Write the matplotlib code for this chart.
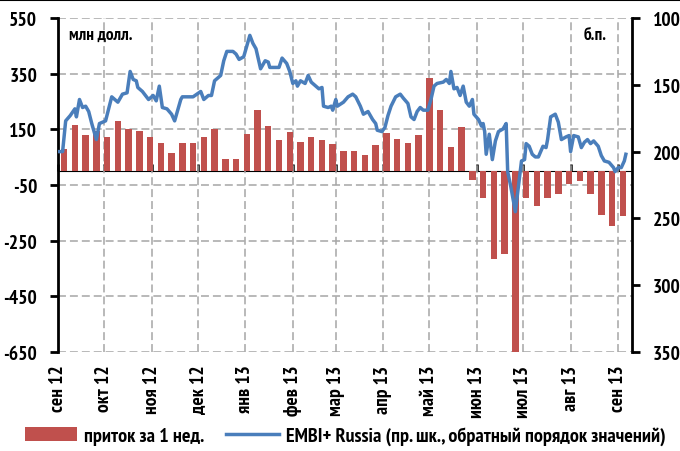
import matplotlib
matplotlib.use('Agg')
import matplotlib.pyplot as plt
import numpy as np
import pandas as pd
from matplotlib.patches import Patch
from matplotlib.lines import Line2D
from matplotlib import font_manager as fm

_avail = set(f.name for f in fm.fontManager.ttflist)
_pref = ['PT Sans Narrow', 'Roboto Condensed', 'Fira Sans Condensed', 'Ubuntu Condensed',
         'Open Sans Condensed', 'Liberation Sans Narrow', 'Oswald']
_fams = [f for f in _pref if f in _avail][:1] + ['DejaVu Sans']
plt.rcParams['font.family'] = _fams
plt.rcParams['font.weight'] = 'bold'

# ---------------- data ----------------
month_labels = ["сен 12", "окт 12", "ноя 12", "дек 12", "янв 13", "фев 13", "мар 13",
                "апр 13", "май 13", "июн 13", "июл 13", "авг 13", "сен 13"]
month_starts = pd.date_range('2012-09-01', periods=13, freq='MS')

# weekly fund flows, mln USD (left axis)
flow_start = '2012-09-05'
flows = [80, 164, 130, 145, 123, 179, 152, 144, 122, 101, 66, 101, 101, 122, 151, 43, 43,
         135, 219, 162, 113, 141, 106, 121, 113, 99, 71, 71, 58, 94, 136, 115, 102, 129,
         334, 221, 87, 158, -31, -97, -317, -297, -650, -97, -126, -97, -84, -48, -34,
         -84, -156, -198, -163]

# EMBI+ Russia spread, bp (right axis, inverted); days since 2012-09-01
embi_days = [0, 3, 5, 8, 11, 12, 14, 16, 18, 20, 22, 25, 27, 31, 35, 37, 39, 42, 45, 47,
             49, 51, 52, 55, 59, 62, 64, 66, 68, 71, 74, 76, 80, 81, 88, 93, 95, 98, 100,
             102, 106, 108, 110, 114, 116, 118, 121, 123, 125, 127, 129, 132, 135, 137,
             138, 144, 146, 149, 151, 153, 155, 156, 158, 161, 163, 165, 168, 170, 172,
             173, 176, 178, 179, 181, 182, 186, 189, 192, 194, 197, 199, 202, 205, 207,
             208, 211, 213, 215, 217, 220, 223, 225, 228, 230, 232, 234, 236, 238, 241,
             243, 245, 247, 251, 253, 255, 256, 258, 260, 262, 264, 266, 268, 270, 271,
             274, 276, 277, 278, 279, 281, 283, 285, 287, 290, 292, 293, 295, 298, 300,
             302, 304, 305, 307, 309, 311, 313, 316, 318, 319, 321, 324, 326, 328, 331,
             333, 334, 336, 339, 341, 343, 345, 347, 349, 352, 354, 356, 359, 362, 363,
             365, 367, 369, 370]
embi_values = [200, 200, 177, 173, 168, 174, 161, 167, 166, 170, 179, 191, 179, 177, 159,
               161, 163, 157, 156, 140, 146, 147, 152, 155, 161, 158, 162, 151, 167, 168,
               172, 177, 161, 159, 159, 155, 161, 158, 158, 147, 143, 132, 125, 125, 127,
               131, 129, 121, 113, 119, 123, 138, 132, 133, 137, 137, 130, 134, 140, 149,
               147, 151, 147, 149, 143, 148, 151, 153, 152, 166, 167, 166, 169, 161, 166,
               163, 159, 157, 159, 166, 172, 170, 176, 179, 184, 185, 182, 173, 166, 159,
               157, 160, 164, 174, 176, 170, 167, 169, 169, 161, 151, 149, 148, 146, 149,
               140, 153, 152, 158, 151, 163, 166, 161, 172, 176, 181, 179, 185, 202, 187,
               206, 192, 185, 183, 179, 215, 226, 245, 226, 207, 206, 194, 196, 202, 204,
               204, 196, 197, 191, 174, 172, 178, 191, 189, 188, 200, 188, 189, 197, 193,
               191, 194, 192, 196, 203, 207, 208, 212, 215, 212, 212, 207, 202]

left_ticks = [-650, -450, -250, -50, 150, 350, 550]
right_ticks = [100, 150, 200, 250, 300, 350]

# ---------------- plot ----------------
flow_dates = pd.date_range(flow_start, periods=len(flows), freq='7D')
embi_dates = pd.Timestamp('2012-09-01') + pd.to_timedelta(embi_days, unit='D')

BAR = '#C0504D'
LINE = '#4A7EBB'
GRID = '#A6A6A6'
FS = 14

fig = plt.figure(figsize=(6.8, 4.52), dpi=100)
ax = fig.add_axes([58 / 680, 1 - 353 / 452, (632 - 58) / 680, (353 - 19) / 452])

ax.bar(flow_dates, flows, width=4.2, color=BAR, zorder=2)
ax.set_ylim(-650, 550)
ax.set_yticks(left_ticks)
ax.set_yticklabels([str(v) for v in left_ticks], fontsize=FS)
ax.set_xlim(pd.Timestamp('2012-09-01'), pd.Timestamp('2013-09-10'))
ax.set_xticks(month_starts)
ax.set_xticklabels(month_labels, rotation=90, fontsize=FS)
ax.tick_params(axis='x', length=0, pad=9)
ax.tick_params(axis='y', direction='out', length=6, width=2, pad=9)
ax.grid(True, color=GRID, lw=1.1, linestyle=(0, (5.2, 2.6)), zorder=0)
ax.set_axisbelow(True)
for s in ['top', 'bottom', 'right']:
    ax.spines[s].set_visible(False)
ax.spines['left'].set_linewidth(2)

# zero axis with month ticks
sec = ax.secondary_xaxis(650 / 1200)
sec.set_xticks(month_starts)
sec.set_xticklabels([])
sec.tick_params(direction='out', length=5, width=1.8)
sec.spines['bottom'].set_linewidth(2)
sec.spines['bottom'].set_zorder(5)

ax2 = ax.twinx()
ax2.plot(embi_dates, embi_values, color=LINE, lw=2.5, solid_joinstyle='round', zorder=4)
ax2.set_ylim(350, 100)
ax2.set_yticks(right_ticks)
ax2.set_yticklabels([str(v) for v in right_ticks], fontsize=FS)
ax2.tick_params(axis='y', direction='out', length=6, width=2, pad=9)
for s in ['top', 'bottom', 'left']:
    ax2.spines[s].set_visible(False)
ax2.spines['right'].set_linewidth(2)

ax.text(0.02, 0.95, 'млн долл.', transform=ax.transAxes, fontsize=12.5,
        fontweight='bold', va='center', ha='left')
ax2.text(0.955, 0.95, 'б.п.', transform=ax.transAxes, fontsize=12.5,
         fontweight='bold', va='center', ha='right')

handles = [Patch(facecolor=BAR, edgecolor='none'),
           Line2D([], [], color=LINE, lw=2.5)]
fig.legend(handles, ['приток за 1 нед.', 'EMBI+ Russia (пр. шк., обратный порядок значений)'],
           loc='center', bbox_to_anchor=(345 / 680, 1 - 437 / 452), ncol=2, frameon=False,
           fontsize=14.5, handlelength=2.6, handletextpad=0.35, columnspacing=1.1,
           borderaxespad=0)

fig.add_artist(Line2D([0, 1], [0.997, 0.997], transform=fig.transFigure,
                      color='black', lw=1.5))

fig.savefig('out.png', dpi=100)
